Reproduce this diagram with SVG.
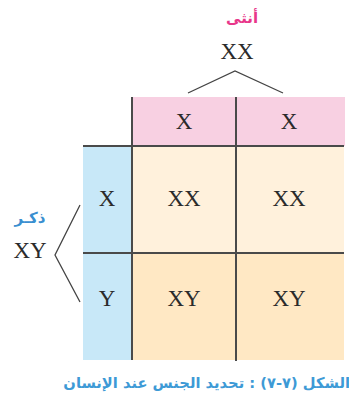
<svg xmlns="http://www.w3.org/2000/svg" width="349" height="394" viewBox="0 0 349 394">
<style>
.g{font-family:"Liberation Serif","DejaVu Serif",serif;font-size:23px;fill:#2b2b2b;text-anchor:middle;dominant-baseline:central}
.ar{font-family:"DejaVu Sans","Noto Sans",sans-serif;font-weight:bold;text-anchor:middle;dominant-baseline:central}
.ln{stroke:#4a4a4a;stroke-width:2;fill:none}
.br{stroke:#444;stroke-width:1.3;fill:none}
</style>
<rect width="349" height="394" fill="#ffffff"/>
<g id="female">
<text class="ar" x="242" y="18" font-size="15" fill="#e8368a">أنثى</text>
<text class="g" x="237" y="51">XX</text>
</g>
<g id="male">
<text class="ar" x="30" y="218" font-size="15" fill="#3a8fd0">ذكـر</text>
<text class="g" x="30" y="250">XY</text>
</g>
<g id="header-x1"><rect x="132" y="97" width="104" height="49" fill="#f8d0e2"/><text class="g" x="184" y="121">X</text></g>
<g id="header-x2"><rect x="236" y="97" width="109" height="49" fill="#f8d0e2"/><text class="g" x="289" y="121">X</text></g>
<g id="side-x"><rect x="83" y="146" width="49" height="107" fill="#c8e8f8"/><text class="g" x="107" y="198">X</text></g>
<g id="side-y"><rect x="83" y="253" width="49" height="107" fill="#c8e8f8"/><text class="g" x="107" y="298">Y</text></g>
<g id="cell-xx1"><rect x="132" y="146" width="104" height="107" fill="#fff1dc"/><text class="g" x="184" y="198">XX</text></g>
<g id="cell-xx2"><rect x="236" y="146" width="108" height="107" fill="#fff1dc"/><text class="g" x="289" y="198">XX</text></g>
<g id="cell-xy1"><rect x="132" y="253" width="104" height="107" fill="#ffe8c4"/><text class="g" x="184" y="298">XY</text></g>
<g id="cell-xy2"><rect x="236" y="253" width="108" height="107" fill="#ffe8c4"/><text class="g" x="289" y="298">XY</text></g>
<g id="connectors">
<polyline class="br" points="188,93 235,71 283,93"/>
<polyline class="br" points="80,205 55,255 80,302"/>
<line class="ln" x1="132" y1="97" x2="132" y2="360"/>
<line class="ln" x1="236" y1="97" x2="236" y2="361"/>
<line class="ln" x1="83" y1="146" x2="344" y2="146"/>
<line class="ln" x1="83" y1="253" x2="344" y2="253"/>
</g>
<g id="caption">
<text x="350" y="382" direction="rtl" font-family="DejaVu Sans,sans-serif" font-size="14.7" font-weight="bold" fill="#3d9ad6" text-anchor="start" dominant-baseline="central">الشكل (٧-٧) : تحديد الجنس عند الإنسان</text>
</g>
</svg>
